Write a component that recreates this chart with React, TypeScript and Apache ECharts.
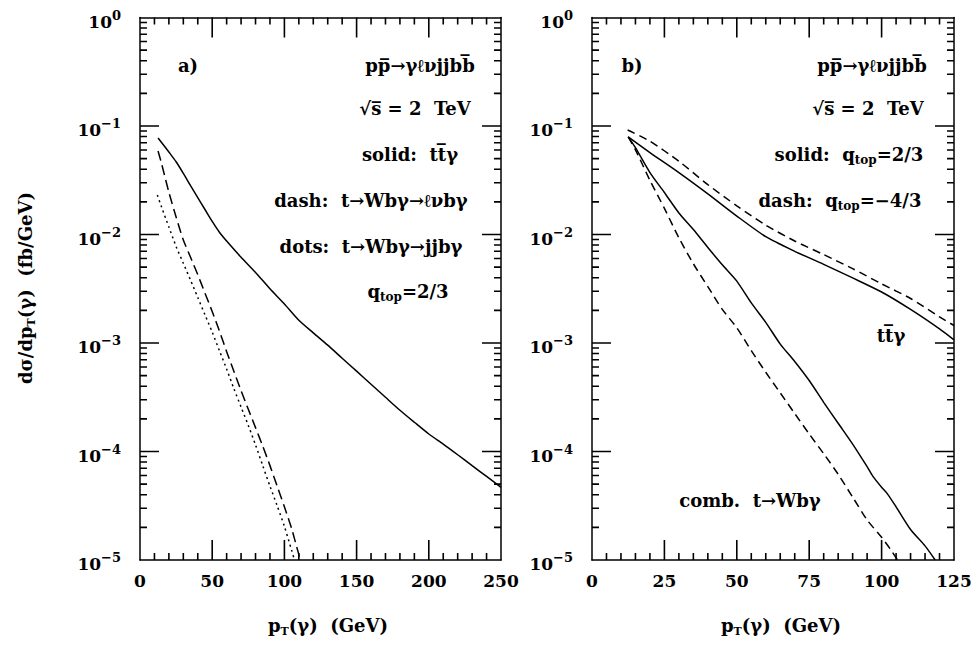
import React, { useEffect, useRef } from "react";
import * as echarts from "echarts";

// ---------- data ----------
// Panel a): tt̄γ (solid)
const aSolidX = [12.5, 20, 25, 30, 35, 40, 45, 50, 55, 60, 70, 80, 90, 100, 110, 120, 130, 140, 150, 160, 170, 180, 190, 200, 210, 220, 230, 240, 250];
const aSolidY = [0.0776, 0.0575, 0.0468, 0.0366, 0.0282, 0.0219, 0.017, 0.0132, 0.0105, 0.00871, 0.00617, 0.00447, 0.00316, 0.00229, 0.00162, 0.00124, 0.000955, 0.000724, 0.00055, 0.000417, 0.000316, 0.00024, 0.000186, 0.000145, 0.000117, 0.0000933, 0.0000741, 0.0000589, 0.0000468];
// Panel a): t→Wbγ→ℓνbγ (dash)
const aDashX = [12.5, 15, 20, 25, 30, 35, 40, 45, 50, 55, 60, 65, 70, 75, 80, 85, 90, 95, 100, 105, 110, 111.2];
const aDashY = [0.0589, 0.0447, 0.0245, 0.0145, 0.00891, 0.00617, 0.00427, 0.00288, 0.00195, 0.00129, 0.000832, 0.00055, 0.000363, 0.000245, 0.000166, 0.000112, 0.0000741, 0.0000479, 0.0000309, 0.0000195, 0.0000112, 0.00001];
// Panel a): t→Wbγ→jjbγ (dots)
const aDotX = [12, 15, 20, 25, 30, 35, 40, 45, 50, 55, 60, 65, 70, 75, 80, 85, 90, 95, 100, 105, 107];
const aDotY = [0.0231, 0.0178, 0.0117, 0.00776, 0.00543, 0.0038, 0.00263, 0.00182, 0.00126, 0.000851, 0.000575, 0.00038, 0.000257, 0.000174, 0.000115, 0.0000741, 0.0000479, 0.0000316, 0.0000204, 0.0000123, 0.00001];

// Panel b): tt̄γ, q_top = 2/3 (solid) and -4/3 (dash)
const bTtSolidX = [12.5, 20, 30, 40, 50, 60, 70, 80, 90, 100, 110, 120, 125];
const bTtSolidY = [0.0794, 0.0569, 0.0372, 0.0237, 0.0148, 0.00955, 0.007, 0.00531, 0.00398, 0.00295, 0.00204, 0.00135, 0.00107];
const bTtDashX = [12.3, 20, 30, 40, 50, 60, 70, 80, 90, 100, 110, 120, 125];
const bTtDashY = [0.0918, 0.0724, 0.0473, 0.0288, 0.0184, 0.0122, 0.00871, 0.00653, 0.00484, 0.00351, 0.00257, 0.00174, 0.00145];
// Panel b): combined t→Wbγ, q_top = 2/3 (solid) and -4/3 (dash)
const bCombSolidX = [12.5, 15, 20, 25, 30, 35, 40, 45, 50, 55, 60, 65, 70, 75, 80, 85, 90, 95, 97, 100, 102, 105, 110, 115, 118.5];
const bCombSolidY = [0.0794, 0.0631, 0.0372, 0.0244, 0.0158, 0.0111, 0.00759, 0.00525, 0.00372, 0.00234, 0.00155, 0.000977, 0.000676, 0.000451, 0.000284, 0.000182, 0.000117, 0.0000724, 0.0000589, 0.0000468, 0.0000407, 0.0000309, 0.0000191, 0.0000135, 0.00001];
const bCombDashX = [12.5, 15, 20, 25, 30, 35, 40, 45, 50, 55, 60, 65, 70, 75, 80, 85, 90, 95, 100, 103, 105.5];
const bCombDashY = [0.0794, 0.0603, 0.0316, 0.0174, 0.00933, 0.00537, 0.00331, 0.00204, 0.00138, 0.000851, 0.000537, 0.000347, 0.000224, 0.000145, 0.0000955, 0.0000617, 0.000038, 0.0000234, 0.0000162, 0.0000126, 0.00001];

// axis ranges / ticks
const aXMax = 250;
const aXStep = 50;
const aXMinorStep = 10;
const bXMax = 125;
const bXStep = 25;
const bXMinorStep = 5;
const yMin = 1e-5;
const yMax = 1;
const yDecades = [-5, -4, -3, -2, -1, 0];
const yMinorMultipliers = [2, 3, 4, 5, 6, 7, 8, 9];

const FONT = "DejaVu Serif";
const OL = "\u0305"; // combining overline

// layout
const GRID_TOP = 17.5;
const GRID_H = 542.5;
const GRID_A = { left: 140, width: 361 };
const GRID_B = { left: 592, width: 362 };

const MAJOR_X = 20;
const MAJOR_Y = 19;
const MINOR = 7;

const pairs = (xs: number[], ys: number[]) => xs.map((x, i) => [x, ys[i]]);

function xAxes(gridIndex: number, max: number, interval: number) {
  const common: any = {
    type: "value",
    gridIndex,
    min: 0,
    max,
    interval,
    axisLine: { show: true, onZero: false, lineStyle: { color: "#000", width: 1.5 } },
    axisTick: { show: false },
    minorTick: { show: false },
    splitLine: { show: false },
    minorSplitLine: { show: false },
  };
  return [
    {
      ...common,
      position: "bottom",
      axisLabel: {
        show: true,
        margin: 12,
        color: "#000",
        fontFamily: FONT,
        fontWeight: "bold",
        fontSize: 17,
        showMinLabel: true,
        showMaxLabel: true,
      },
    },
    { ...common, position: "top", axisLabel: { show: false } },
  ];
}

function yAxes(gridIndex: number) {
  const common: any = {
    type: "log",
    logBase: 10,
    gridIndex,
    min: yMin,
    max: yMax,
    axisLine: { show: true, onZero: false, lineStyle: { color: "#000", width: 1.5 } },
    axisTick: { show: false },
    minorTick: { show: false },
    splitLine: { show: false },
    minorSplitLine: { show: false },
  };
  return [
    {
      ...common,
      position: "left",
      axisLabel: {
        show: true,
        margin: 19,
        showMinLabel: true,
        showMaxLabel: true,
        formatter: (v: number) => {
          const e = Math.round(Math.log10(v));
          const s = e === 0 ? "0" : "\u2212" + Math.abs(e);
          return "{b|10}{s|" + s + "}";
        },
        rich: {
          b: { fontFamily: FONT, fontWeight: "bold", fontSize: 17, color: "#000", lineHeight: 18, padding: [8, 0, 0, 0] },
          s: { fontFamily: FONT, fontWeight: "bold", fontSize: 13, color: "#000", lineHeight: 14, verticalAlign: "top" },
        },
      },
    },
    { ...common, position: "right", axisLabel: { show: false } },
  ];
}

const richText = {
  m: { fontFamily: FONT, fontWeight: "bold", fontSize: 18, fill: "#000", lineHeight: 24 },
  sub: { fontFamily: FONT, fontSize: 12, fontWeight: "bold", fill: "#000", lineHeight: 12, verticalAlign: "bottom" },
  subt: { fontFamily: FONT, fontSize: 11, fontWeight: "bold", fill: "#000", lineHeight: 12, verticalAlign: "bottom" },
};

function txt(x: number, y: number, text: string, rotation = 0) {
  return {
    type: "text",
    x,
    y,
    rotation,
    silent: true,
    style: {
      text,
      rich: richText,
      fill: "#000",
      fontFamily: FONT,
      fontWeight: "bold",
      fontSize: 18,
      align: "center",
      verticalAlign: "middle",
      textAlign: "center",
      textVerticalAlign: "middle",
    },
  };
}

const procText = "{m|pp" + OL + "\u2192\u03b3\u2113\u03bdjjbb" + OL + "}";
const sqrtText = "{m|\u221as" + OL + " = 2  TeV}";

const textElements = [
  // panel a
  txt(188, 65, "{m|a)}"),
  txt(420, 65, procText),
  txt(415, 108, sqrtText),
  txt(410, 154, "{m|solid:  tt" + OL + "\u03b3}"),
  txt(371, 200, "{m|dash:  t\u2192Wb\u03b3\u2192\u2113\u03bdb\u03b3}"),
  txt(371, 246, "{m|dots:  t\u2192Wb\u03b3\u2192jjb\u03b3}"),
  txt(408, 291, "{m|q}{sub|top}{m|=2/3}"),
  // panel b
  txt(632, 65, "{m|b)}"),
  txt(872, 65, procText),
  txt(868, 108, sqrtText),
  txt(849, 154, "{m|solid:  q}{sub|top}{m|=2/3}"),
  txt(840, 200, "{m|dash:  q}{sub|top}{m|=\u22124/3}"),
  txt(891, 335, "{m|tt" + OL + "\u03b3}"),
  txt(750, 500, "{m|comb.  t\u2192Wb\u03b3}"),
  // axis titles
  txt(25, 288, "{m|d\u03c3/dp}{subt|T}{m|(\u03b3)  (fb/GeV)}", Math.PI / 2),
  txt(328, 625, "{m|p}{subt|T}{m|(\u03b3)  (GeV)}"),
  txt(781, 625, "{m|p}{subt|T}{m|(\u03b3)  (GeV)}"),
];

function lineSeries(name: string, ai: number, data: any[], type: any, smooth: any = 0.25, width = 1.5) {
  return {
    name,
    type: "line",
    xAxisIndex: ai,
    yAxisIndex: ai,
    data,
    showSymbol: false,
    symbol: "none",
    smooth,
    clip: true,
    silent: true,
    lineStyle: { color: "#000", width, type },
  };
}

// Tick marks as zig-zag frame lines in data space: a pixel length is turned
// into an axis offset with the frame's own scale (px per decade / px per unit).
// Each tick is one small polyline of three points, drawn like the curves.
function tickPaths(xMax: number, xStep: number, xMinorStep: number, gridWidth: number) {
  const pxPerDecade = GRID_H / 5;
  const pxPerUnit = gridWidth / xMax;
  const up = (len: number) => Math.pow(10, len / pxPerDecade);
  const out: any[] = [];
  for (let v = xMinorStep; v < xMax - 1e-9; v += xMinorStep) {
    const r = v / xStep;
    const len = Math.abs(r - Math.round(r)) < 1e-9 ? MAJOR_X : MINOR;
    out.push([v, yMin], [v, yMin * up(len)], "-");
    out.push([v, yMax], [v, yMax / up(len)], "-");
  }
  yDecades.forEach((e) => {
    const vals: number[][] = [];
    if (e !== -5 && e !== 0) vals.push([Math.pow(10, e), MAJOR_Y]);
    if (e < 0) yMinorMultipliers.forEach((m) => vals.push([m * Math.pow(10, e), MINOR]));
    vals.forEach(([v, len]) => {
      const dx = len / pxPerUnit;
      out.push([0, v], [dx, v], "-");
      out.push([xMax, v], [xMax - dx, v], "-");
    });
  });
  return out;
}

export default function App() {
  const ref = useRef<HTMLDivElement>(null);

  useEffect(() => {
    if (!ref.current) return;
    const chart = echarts.init(ref.current, undefined, { renderer: "svg" });

    const option: any = {
      animation: false,
      backgroundColor: "#fff",
      grid: [
        { left: GRID_A.left, top: GRID_TOP, width: GRID_A.width, height: GRID_H, containLabel: false, outerBoundsMode: "none" },
        { left: GRID_B.left, top: GRID_TOP, width: GRID_B.width, height: GRID_H, containLabel: false, outerBoundsMode: "none" },
      ],
      xAxis: [...xAxes(0, aXMax, aXStep), ...xAxes(1, bXMax, bXStep)],
      yAxis: [...yAxes(0), ...yAxes(1)],
      series: [
        // tick marks (drawn exactly like the curves)
        { ...lineSeries("ticks a", 0, tickPaths(aXMax, aXStep, aXMinorStep, GRID_A.width), "solid", false, 1.6), connectNulls: false },
        { ...lineSeries("ticks b", 2, tickPaths(bXMax, bXStep, bXMinorStep, GRID_B.width), "solid", false, 1.6), connectNulls: false },
        // panel a (bottom x axis 0, left y axis 0)
        lineSeries("tt\u0305\u03b3", 0, pairs(aSolidX, aSolidY), "solid"),
        lineSeries("t\u2192Wb\u03b3\u2192\u2113\u03bdb\u03b3", 0, pairs(aDashX, aDashY), [10, 5]),
        lineSeries("t\u2192Wb\u03b3\u2192jjb\u03b3", 0, pairs(aDotX, aDotY), [2, 3.5]),
        // panel b (bottom x axis 2, left y axis 2)
        lineSeries("tt\u0305\u03b3 q=2/3", 2, pairs(bTtSolidX, bTtSolidY), "solid"),
        lineSeries("tt\u0305\u03b3 q=-4/3", 2, pairs(bTtDashX, bTtDashY), [8, 5]),
        lineSeries("comb q=2/3", 2, pairs(bCombSolidX, bCombSolidY), "solid"),
        lineSeries("comb q=-4/3", 2, pairs(bCombDashX, bCombDashY), [8, 5]),
      ],
      graphic: textElements,
    };

    chart.setOption(option);

    return () => {
      chart.dispose();
    };
  }, []);

  return (
    <div
      ref={ref}
      style={{ position: "fixed", left: 0, top: 0, width: "974px", height: "645px", background: "#fff" }}
    />
  );
}
